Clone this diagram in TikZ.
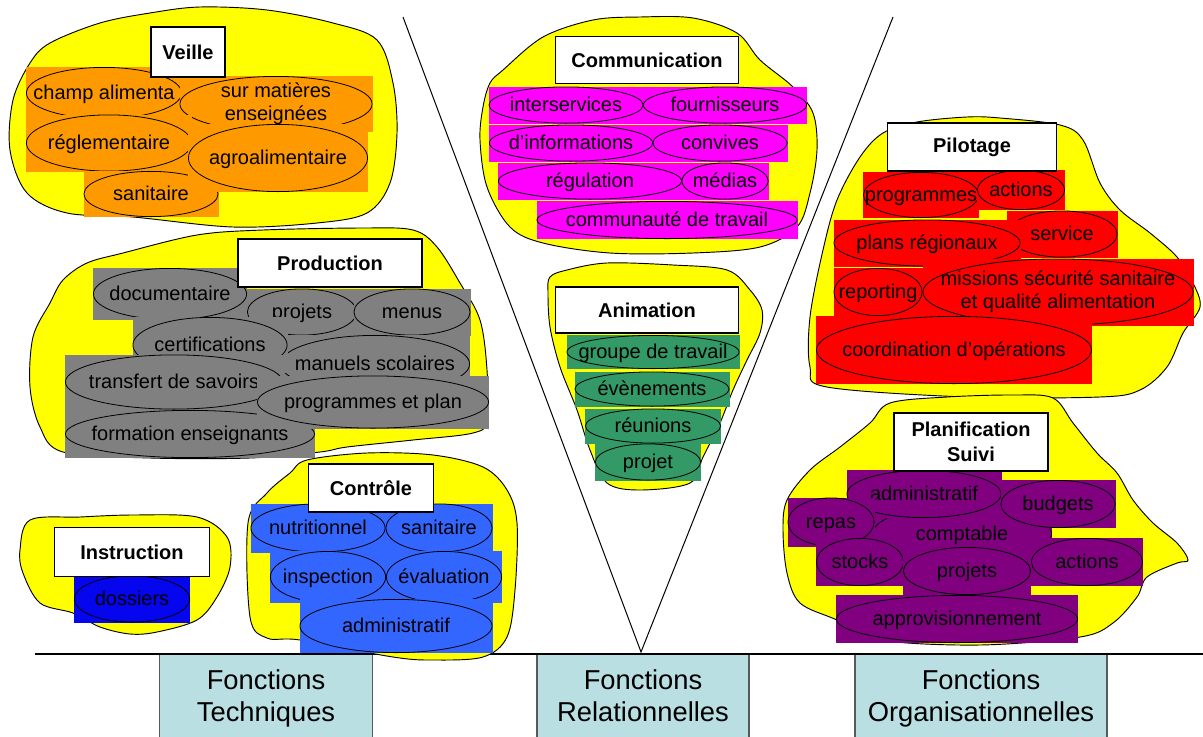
\documentclass[tikz,border=0pt]{standalone}
\usepackage{fontspec}
\setmainfont{Liberation Sans}
\usetikzlibrary{calc}

\definecolor{jaune}{HTML}{FFFF00}
\definecolor{orangeV}{HTML}{FF9900}
\definecolor{grisP}{HTML}{808080}
\definecolor{bleuI}{HTML}{0505EE}
\definecolor{bleuC}{HTML}{3366FF}
\definecolor{magentaC}{HTML}{FF00FF}
\definecolor{vertA}{HTML}{339966}
\definecolor{rougeP}{HTML}{FF0000}
\definecolor{violetS}{HTML}{800080}
\definecolor{bleuF}{HTML}{B9DFE2}

\begin{document}
\begin{tikzpicture}[
        x=0.75pt, y=-0.75pt,
        taille/.style 2 args={minimum width=#1*0.75pt, minimum height=#2*0.75pt},
        blob/.style={draw, fill=jaune, line width=0.7pt},
        bulle/.style={rectangle, fill=#1, inner sep=0pt, align=center,
            font=\fontsize{15}{17.5}\selectfont,
            execute at begin node={\rule[-3.5pt]{0pt}{16.5pt}},
            path picture={\draw[line width=0.6pt]
                let \p1=(path picture bounding box.north east),
                    \p2=(path picture bounding box.center) in
                (\p2) ellipse [x radius=\x1-\x2-0.3pt, y radius=\y1-\y2-0.3pt];}},
        titre/.style={draw, fill=white, line width=0.8pt, inner sep=0pt, align=center,
            font=\bfseries\fontsize{15}{18.5}\selectfont},
        fonction/.style={draw=black!65, fill=bleuF, line width=0.8pt, inner sep=0pt,
            anchor=north, align=center, font=\fontsize{20.5}{24}\selectfont},
        trait/.style={line width=0.75pt},
        sol/.style={line width=2.2pt}
    ]
    \useasboundingbox (0,0) rectangle (1203,736);

    % Fonctions
    \node[fonction, taille={213}{89}] (techniques) at (266,654) {\strut Fonctions\\\strut Techniques};
    \node[fonction, taille={212}{89}] (relationnelles) at (643,654) {\strut Fonctions\\\strut Relationnelles};
    \node[fonction, taille={252}{89}] (organisationnelles) at (981,654) {\strut Fonctions\\\strut Organisationnelles};

    % Axes
    \coordinate (solG) at (35,654);
    \coordinate (solD) at (1203,654);
    \draw[sol] (solG) -- (solD);
    \coordinate (sommetG) at (403,17);
    \coordinate (sommetD) at (893,17);
    \coordinate (pointe) at (641,652);
    \draw[trait] (sommetG) -- (pointe) -- (sommetD);

    % Veille
    \draw[blob] plot[smooth cycle, tension=0.55] coordinates {(13,100) (30,63) (50,43) (100,23) (150,13) (200,7) (267,10) (333,23) (377,40) (393,83) (397,133) (390,183) (367,213) (317,223) (233,227) (133,217) (67,213) (27,193) (10,150)};
    \node[bulle=orangeV, taille={156}{52}] (champ) at (104,93) {champ alimenta};
    \node[bulle=orangeV, taille={193}{56}] (matieres) at (276,104) {sur matières\\enseignées};
    \node[bulle=orangeV, taille={166}{57}] (reglementaire) at (109,143) {réglementaire};
    \node[bulle=orangeV, taille={135}{46}] (sanitaireV) at (151,194) {sanitaire};
    \node[bulle=orangeV, taille={180}{68}] (agro) at (278,158) {agroalimentaire};
    \node[titre, taille={74}{50}] (veille) at (188,52) {Veille};

    % Production
    \draw[blob] plot[smooth cycle, tension=0.55] coordinates {(63,280) (87,263) (123,253) (197,235) (263,230) (363,228) (413,230) (437,247) (460,283) (480,320) (487,370) (487,420) (473,433) (413,440) (347,447) (320,452) (250,458) (150,458) (63,452) (40,427) (30,387) (33,337) (50,303)};
    \node[bulle=grisP, taille={154}{52}] (documentaire) at (170,294) {documentaire};
    \node[bulle=grisP, taille={110}{47}] (projets) at (302,312) {projets};
    \node[bulle=grisP, taille={117}{47}] (menus) at (412,312) {menus};
    \node[bulle=grisP, taille={190}{58}] (manuels) at (375,364) {manuels scolaires};
    \node[bulle=grisP, taille={155}{56}] (certifications) at (210,345) {certifications};
    \node[bulle=grisP, taille={218}{55}] (transfert) at (174,382) {transfert de savoirs};
    \node[bulle=grisP, taille={250}{48}] (formation) at (190,434) {formation enseignants};
    \node[bulle=grisP, taille={232}{53}] (programmesP) at (373,402) {programmes et plan};
    \node[titre, taille={184}{48}] (production) at (330,263) {Production};

    % Instruction
    \draw[blob] plot[smooth cycle, tension=0.55] coordinates {(20,550) (30,520) (80,517) (133,515) (197,517) (227,537) (230,567) (217,597) (197,620) (157,632) (130,634) (100,627) (73,613) (40,603) (23,573)};
    \node[bulle=bleuI, taille={116}{47}] (dossiers) at (132,599) {dossiers};
    \node[titre, taille={155}{49}] (instruction) at (132,552) {Instruction};

    % Controle
    \draw[blob] plot[smooth cycle, tension=0.55] coordinates {(248,523) (267,493) (290,473) (307,460) (367,453) (433,455) (483,467) (507,490) (517,523) (515,590) (507,637) (483,657) (433,660) (393,657) (300,640) (267,638) (250,617)};
    \node[bulle=bleuC, taille={135}{49}] (nutritionnel) at (318,528) {nutritionnel};
    \node[bulle=bleuC, taille={107}{49}] (sanitaireC) at (439,528) {sanitaire};
    \node[bulle=bleuC, taille={116}{52}] (inspection) at (328,577) {inspection};
    \node[bulle=bleuC, taille={116}{52}] (evaluation) at (444,577) {évaluation};
    \node[bulle=bleuC, taille={193}{54}] (administratifC) at (396,626) {administratif};
    \node[titre, taille={125}{48}] (controle) at (371,488) {Contrôle};

    % Communication
    \draw[blob] plot[smooth cycle, tension=0.55] coordinates {(483,107) (490,83) (503,70) (543,37) (593,20) (640,17) (693,18) (737,33) (760,60) (793,87) (813,113) (817,150) (810,193) (797,227) (760,247) (693,253) (610,253) (543,243) (510,227) (487,187) (480,140)};
    \node[bulle=magentaC, taille={155}{37}] (interservices) at (566,105) {interservices};
    \node[bulle=magentaC, taille={164}{37}] (fournisseurs) at (725,105) {fournisseurs};
    \node[bulle=magentaC, taille={164}{37}] (informations) at (571,143) {d’informations};
    \node[bulle=magentaC, taille={135}{37}] (convives) at (720,143) {convives};
    \node[bulle=magentaC, taille={87}{37}] (medias) at (725,181) {médias};
    \node[bulle=magentaC, taille={184}{37}] (regulation) at (590,181) {régulation};
    \node[bulle=magentaC, taille={261}{38}] (communaute) at (667,220) {communauté de travail};
    \node[titre, taille={183}{47}] (communication) at (647,60) {Communication};

    % Animation
    \draw[blob] plot[smooth cycle, tension=0.55] coordinates {(548,293) (550,277) (567,270) (607,263) (673,265) (727,270) (750,290) (762,310) (760,333) (747,360) (733,390) (720,423) (703,457) (690,483) (640,490) (607,483) (590,450) (577,410) (560,367) (550,327)};
    \node[bulle=vertA, taille={173}{34}] (groupe) at (653,352) {groupe de travail};
    \node[bulle=vertA, taille={155}{35}] (evenements) at (652,389) {évènements};
    \node[bulle=vertA, taille={136}{35}] (reunions) at (653,426) {réunions};
    \node[bulle=vertA, taille={106}{37}] (projetA) at (648,462) {projet};
    \node[titre, taille={183}{46}] (animation) at (647,310) {Animation};

    % Pilotage
    \draw[blob] plot[smooth cycle, tension=0.55] coordinates {(860,157) (883,133) (917,122) (967,117) (1000,118) (1060,125) (1083,140) (1100,183) (1120,210) (1150,233) (1177,257) (1193,283) (1200,307) (1183,333) (1167,367) (1140,390) (1100,397) (967,397) (827,387) (810,367) (810,317) (823,250) (837,200)};
    \node[bulle=rougeP, taille={116}{46}] (programmesPi) at (921,195) {programmes};
    \node[bulle=rougeP, taille={88}{40}] (actionsPi) at (1021,190) {actions};
    \node[bulle=rougeP, taille={111}{47}] (service) at (1062,234) {service};
    \node[bulle=rougeP, taille={187}{47}] (plans) at (927,243) {plans régionaux};
    \node[bulle=rougeP, taille={89}{48}] (reporting) at (878,292) {reporting};
    \node[bulle=rougeP, taille={271}{67}] (missions) at (1058,292) {missions sécurité sanitaire\\et qualité alimentation};
    \node[bulle=rougeP, taille={276}{68}] (coordination) at (954,350) {coordination d’opérations};
    \node[titre, taille={169}{48}] (pilotage) at (972,147) {Pilotage};

    % Planification Suivi
    \draw[blob] plot[smooth cycle, tension=0.55] coordinates {(870,423) (890,403) (947,397) (1013,395) (1053,398) (1073,423) (1097,453) (1117,473) (1133,500) (1153,523) (1177,543) (1188,560) (1177,563) (1147,577) (1137,597) (1113,623) (1080,637) (980,645) (880,640) (837,620) (800,603) (787,573) (783,530) (787,500) (810,470) (840,447)};
    \node[bulle=violetS, taille={180}{58}] (comptable) at (962,534) {comptable};
    \node[bulle=violetS, taille={155}{48}] (administratifP) at (924,494) {administratif};
    \node[bulle=violetS, taille={115}{48}] (budgets) at (1058,504) {budgets};
    \node[bulle=violetS, taille={87}{49}] (repas) at (831,522) {repas};
    \node[bulle=violetS, taille={88}{48}] (stocks) at (860,562) {stocks};
    \node[bulle=violetS, taille={128}{48}] (projetsP) at (967,571) {projets};
    \node[bulle=violetS, taille={112}{48}] (actionsP) at (1087,562) {actions};
    \node[bulle=violetS, taille={242}{48}] (approvisionnement) at (957,619) {approvisionnement};
    \node[titre, taille={154}{58}] (planification) at (971,442) {Planification\\Suivi};

\end{tikzpicture}
\end{document}
